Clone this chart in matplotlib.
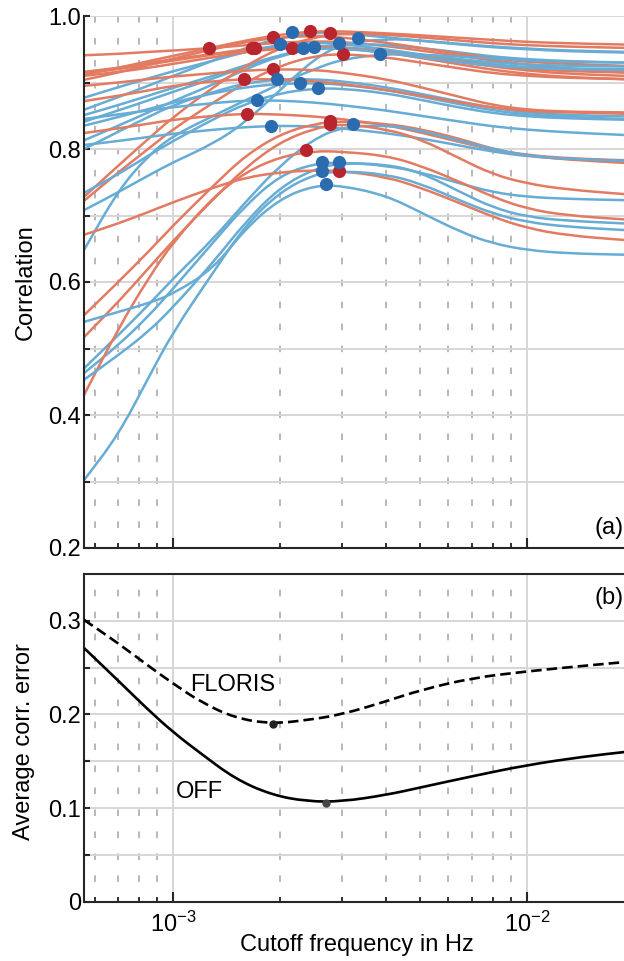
import matplotlib
matplotlib.use("Agg")
import matplotlib.pyplot as plt
from matplotlib.ticker import LogLocator, FixedLocator, NullFormatter, FixedFormatter
from matplotlib.path import Path
from matplotlib.patches import PathPatch
import numpy as np

plt.rcParams['font.family'] = ['Liberation Sans', 'DejaVu Sans']
plt.rcParams['mathtext.fontset'] = 'custom'
plt.rcParams['mathtext.rm'] = 'Liberation Sans'
plt.rcParams['mathtext.it'] = 'Liberation Sans:italic'
plt.rcParams['mathtext.sf'] = 'Liberation Sans'

# ---------------- data (panel a) ----------------
freq_grid = [5.6e-4, 7e-4, 8.5e-4, 1e-3, 1.3e-3, 1.6e-3, 2e-3, 2.5e-3, 3e-3,
             4e-3, 5e-3, 6.5e-3, 8e-3, 1e-2, 1.3e-2, 1.9e-2]

red_curves = [
    [0.941, 0.943, 0.946, 0.948, 0.952, 0.956, 0.960, 0.962, 0.961, 0.955, 0.948, 0.940, 0.933, 0.927, 0.921, 0.915],
    [0.916, 0.922, 0.929, 0.935, 0.943, 0.950, 0.954, 0.955, 0.953, 0.947, 0.940, 0.931, 0.924, 0.918, 0.913, 0.910],
    [0.914, 0.920, 0.927, 0.933, 0.942, 0.949, 0.953, 0.954, 0.952, 0.945, 0.937, 0.927, 0.919, 0.913, 0.908, 0.905],
    [0.904, 0.915, 0.926, 0.936, 0.950, 0.961, 0.968, 0.970, 0.968, 0.960, 0.952, 0.943, 0.936, 0.931, 0.928, 0.925],
    [0.910, 0.916, 0.922, 0.928, 0.938, 0.946, 0.951, 0.953, 0.952, 0.946, 0.939, 0.931, 0.925, 0.920, 0.917, 0.915],
    [0.912, 0.922, 0.932, 0.940, 0.953, 0.963, 0.972, 0.977, 0.977, 0.974, 0.971, 0.967, 0.964, 0.961, 0.959, 0.957],
    [0.728, 0.775, 0.815, 0.848, 0.893, 0.925, 0.952, 0.968, 0.974, 0.972, 0.968, 0.963, 0.959, 0.956, 0.954, 0.952],
    [0.722, 0.765, 0.800, 0.830, 0.870, 0.900, 0.925, 0.940, 0.943, 0.938, 0.930, 0.921, 0.914, 0.910, 0.907, 0.905],
    [0.872, 0.880, 0.888, 0.895, 0.902, 0.905, 0.905, 0.902, 0.898, 0.889, 0.880, 0.870, 0.862, 0.857, 0.855, 0.853],
    [0.895, 0.900, 0.905, 0.909, 0.914, 0.918, 0.920, 0.919, 0.915, 0.905, 0.893, 0.878, 0.866, 0.859, 0.856, 0.855],
    [0.824, 0.831, 0.838, 0.844, 0.850, 0.853, 0.852, 0.849, 0.845, 0.836, 0.825, 0.810, 0.799, 0.791, 0.786, 0.783],
    [0.550, 0.600, 0.645, 0.685, 0.745, 0.790, 0.822, 0.838, 0.842, 0.838, 0.830, 0.815, 0.800, 0.790, 0.784, 0.779],
    [0.517, 0.570, 0.620, 0.662, 0.725, 0.772, 0.810, 0.831, 0.838, 0.830, 0.815, 0.785, 0.762, 0.748, 0.739, 0.732],
    [0.430, 0.530, 0.605, 0.660, 0.728, 0.765, 0.788, 0.797, 0.796, 0.790, 0.775, 0.750, 0.728, 0.710, 0.700, 0.694],
    [0.671, 0.688, 0.705, 0.720, 0.742, 0.757, 0.765, 0.768, 0.767, 0.758, 0.742, 0.718, 0.698, 0.681, 0.670, 0.663],
]
red_best_f = [1.26e-3, 1.67e-3, 1.70e-3, 1.91e-3, 2.17e-3, 2.44e-3, 2.78e-3, 3.02e-3,
              1.59e-3, 1.91e-3, 1.62e-3, 2.78e-3, 2.78e-3, 2.38e-3, 2.94e-3]
red_best_r = [0.952, 0.952, 0.952, 0.968, 0.952, 0.977, 0.974, 0.943,
              0.905, 0.920, 0.853, 0.842, 0.838, 0.798, 0.767]

blue_curves = [
    [0.859, 0.878, 0.895, 0.910, 0.933, 0.952, 0.967, 0.975, 0.974, 0.968, 0.963, 0.957, 0.953, 0.950, 0.947, 0.945],
    [0.708, 0.735, 0.760, 0.780, 0.808, 0.840, 0.888, 0.935, 0.958, 0.966, 0.963, 0.958, 0.954, 0.951, 0.948, 0.946],
    [0.851, 0.866, 0.880, 0.892, 0.910, 0.926, 0.941, 0.952, 0.958, 0.957, 0.952, 0.945, 0.939, 0.935, 0.932, 0.930],
    [0.877, 0.893, 0.906, 0.917, 0.933, 0.946, 0.957, 0.960, 0.958, 0.950, 0.942, 0.933, 0.927, 0.923, 0.921, 0.920],
    [0.841, 0.858, 0.873, 0.886, 0.906, 0.924, 0.941, 0.952, 0.953, 0.948, 0.942, 0.935, 0.930, 0.927, 0.925, 0.924],
    [0.813, 0.835, 0.855, 0.872, 0.897, 0.920, 0.940, 0.951, 0.951, 0.945, 0.938, 0.930, 0.925, 0.922, 0.920, 0.919],
    [0.648, 0.738, 0.790, 0.820, 0.850, 0.873, 0.898, 0.920, 0.935, 0.943, 0.942, 0.939, 0.936, 0.933, 0.931, 0.930],
    [0.800, 0.826, 0.848, 0.866, 0.886, 0.899, 0.905, 0.905, 0.902, 0.893, 0.883, 0.871, 0.862, 0.855, 0.851, 0.849],
    [0.835, 0.848, 0.860, 0.870, 0.884, 0.893, 0.898, 0.899, 0.897, 0.889, 0.879, 0.867, 0.858, 0.852, 0.848, 0.845],
    [0.734, 0.762, 0.790, 0.812, 0.845, 0.868, 0.884, 0.891, 0.891, 0.884, 0.874, 0.862, 0.854, 0.849, 0.846, 0.844],
    [0.845, 0.852, 0.858, 0.863, 0.869, 0.873, 0.873, 0.870, 0.866, 0.858, 0.850, 0.841, 0.834, 0.829, 0.825, 0.821],
    [0.806, 0.812, 0.818, 0.823, 0.829, 0.833, 0.835, 0.834, 0.831, 0.824, 0.816, 0.805, 0.796, 0.789, 0.785, 0.782],
    [0.470, 0.520, 0.565, 0.605, 0.665, 0.720, 0.775, 0.815, 0.833, 0.836, 0.828, 0.812, 0.800, 0.790, 0.785, 0.782],
    [0.463, 0.505, 0.548, 0.590, 0.660, 0.715, 0.760, 0.778, 0.780, 0.775, 0.765, 0.748, 0.735, 0.728, 0.725, 0.723],
    [0.453, 0.490, 0.525, 0.562, 0.630, 0.690, 0.742, 0.770, 0.779, 0.777, 0.765, 0.735, 0.712, 0.698, 0.692, 0.688],
    [0.302, 0.370, 0.455, 0.525, 0.615, 0.685, 0.735, 0.762, 0.767, 0.762, 0.748, 0.722, 0.703, 0.690, 0.683, 0.678],
    [0.540, 0.555, 0.568, 0.582, 0.620, 0.680, 0.725, 0.745, 0.745, 0.730, 0.705, 0.675, 0.658, 0.648, 0.643, 0.641],
]
blue_best_f = [2.17e-3, 3.33e-3, 2.94e-3, 2.0e-3, 2.5e-3, 2.33e-3, 3.84e-3, 1.97e-3,
               2.28e-3, 2.57e-3, 1.73e-3, 1.89e-3, 3.22e-3, 2.63e-3, 2.94e-3, 2.63e-3, 2.70e-3]
blue_best_r = [0.976, 0.967, 0.959, 0.958, 0.953, 0.952, 0.943, 0.905,
               0.899, 0.892, 0.874, 0.835, 0.838, 0.780, 0.780, 0.767, 0.747]

# ---------------- data (panel b) ----------------
err_freq = [5.6e-4, 7e-4, 8.5e-4, 1e-3, 1.2e-3, 1.5e-3, 1.9e-3, 2.4e-3, 3e-3,
            4e-3, 5e-3, 7e-3, 1e-2, 1.45e-2, 1.9e-2]
err_floris = [0.301, 0.276, 0.252, 0.233, 0.213, 0.196, 0.190, 0.194, 0.200,
              0.214, 0.226, 0.239, 0.246, 0.252, 0.256]
err_off = [0.271, 0.236, 0.205, 0.181, 0.158, 0.131, 0.114, 0.107, 0.107,
           0.114, 0.122, 0.134, 0.146, 0.155, 0.160]
floris_min = (1.92e-3, 0.190)
off_min = (2.70e-3, 0.1058)

# ---------------- styling ----------------
RED_LINE = '#e27b61'
BLUE_LINE = '#67acd4'
RED_DOT = '#b9252f'
BLUE_DOT = '#2b6cb0'
SPINE = '#262626'
GRID = '#d6d6d6'
MINOR = '#b8b8b8'
FS = 17

W, H = 624, 961
fig = plt.figure(figsize=(W / 100, H / 100), dpi=100)
left = 84 / W
ax1 = fig.add_axes([left, 1 - 548 / H, 1 - left, (548 - 16) / H])
ax2 = fig.add_axes([left, 1 - 901.7 / H, 1 - left, (901.7 - 574) / H])

xlim = (5.6e-4, 1.88e-2)


def smooth_line(ax, xs, ys, **kw):
    """Draw a smooth quadratic-Bezier path through the data (log-x aware)."""
    xs = np.asarray(xs, float)
    ys = np.asarray(ys, float)
    lx = np.log10(xs)
    verts = [(xs[0], ys[0])]
    codes = [Path.MOVETO]
    mx = 10 ** ((lx[0] + lx[1]) / 2)
    verts.append((mx, (ys[0] + ys[1]) / 2))
    codes.append(Path.LINETO)
    for i in range(1, len(xs) - 1):
        mx = 10 ** ((lx[i] + lx[i + 1]) / 2)
        verts += [(xs[i], ys[i]), (mx, (ys[i] + ys[i + 1]) / 2)]
        codes += [Path.CURVE3, Path.CURVE3]
    verts.append((xs[-1], ys[-1]))
    codes.append(Path.LINETO)
    patch = PathPatch(Path(verts, codes), fill=False, transform=ax.transData, **kw)
    ax.add_patch(patch)
    return patch


def style_axes(ax, ymaj, ymin, ylabels, show_top):
    ax.set_xscale('log')
    ax.set_xlim(*xlim)
    ax.xaxis.set_major_locator(FixedLocator([1e-3, 1e-2]))
    ax.xaxis.set_minor_locator(LogLocator(base=10, subs=np.arange(2, 10), numticks=20))
    ax.xaxis.set_minor_formatter(NullFormatter())
    ax.yaxis.set_major_locator(FixedLocator(ymaj))
    ax.yaxis.set_major_formatter(FixedFormatter(ylabels))
    ax.yaxis.set_minor_locator(FixedLocator(ymin))
    ax.grid(True, which='major', axis='x', color=GRID, lw=1.4, zorder=0)
    ax.grid(True, which='minor', axis='x', color=MINOR, lw=1.4,
            linestyle=(1, (3.4, 7.9)), zorder=0)
    ax.grid(True, which='both', axis='y', color=GRID, lw=1.4, zorder=0)
    ax.set_axisbelow(True)
    ax.spines['right'].set_visible(False)
    ax.spines['top'].set_visible(show_top)
    for s in ['left', 'bottom', 'top']:
        ax.spines[s].set_color(SPINE)
        ax.spines[s].set_linewidth(1.5)
    ax.tick_params(axis='x', which='major', direction='in', length=7, width=1.5,
                   color=SPINE, labelsize=FS, pad=7, top=False)
    ax.tick_params(axis='x', which='minor', direction='in', length=3.5, width=1.3,
                   color=SPINE, top=False)
    ax.tick_params(axis='y', which='both', direction='in', length=4.5, width=1.5,
                   color=SPINE, labelsize=FS, pad=2, right=False)


style_axes(ax1, [0.2, 0.4, 0.6, 0.8, 1.0], [0.3, 0.5, 0.7, 0.9],
           ['0.2', '0.4', '0.6', '0.8', '1.0'], False)
ax1.set_ylim(0.2, 1.0)
ax1.tick_params(axis='x', which='both', labelbottom=False)

style_axes(ax2, [0, 0.1, 0.2, 0.3], [0.05, 0.15, 0.25],
           ['0', '0.1', '0.2', '0.3'], True)
ax2.set_ylim(0, 0.35)

# panel (a) curves
n = max(len(red_curves), len(blue_curves))
for i in range(n):
    if i < len(blue_curves):
        smooth_line(ax1, freq_grid, blue_curves[i], edgecolor=BLUE_LINE, lw=1.8,
                    zorder=2, capstyle='round')
    if i < len(red_curves):
        smooth_line(ax1, freq_grid, red_curves[i], edgecolor=RED_LINE, lw=1.8,
                    zorder=2, capstyle='round')
ax1.plot(red_best_f, red_best_r, 'o', color=RED_DOT, ms=9.5, mec='none', zorder=4)
ax1.plot(blue_best_f, blue_best_r, 'o', color=BLUE_DOT, ms=9.5, mec='none', zorder=4)

ax1.set_ylabel('Correlation', fontsize=FS)
ax1.yaxis.set_label_coords(-0.088, 0.5)
ax1.text(0.999, 0.038, '(a)', transform=ax1.transAxes, ha='right', va='center',
         fontsize=FS)

# panel (b)
smooth_line(ax2, err_freq, err_floris, edgecolor='black', lw=1.9,
            linestyle=(0, (4.0, 1.9)), zorder=3)
smooth_line(ax2, err_freq, err_off, edgecolor='black', lw=1.9, zorder=3)
ax2.plot([floris_min[0]], [floris_min[1]], 'o', color='#222222', ms=5, zorder=4)
ax2.plot([off_min[0]], [off_min[1]], 'o', color='#444444', ms=5, zorder=4)
ax2.text(1.472e-3, 0.2316, 'FLORIS', ha='center', va='center', fontsize=FS)
ax2.text(1.188e-3, 0.1176, 'OFF', ha='center', va='center', fontsize=FS)
ax2.text(0.999, 0.927, '(b)', transform=ax2.transAxes, ha='right', va='center',
         fontsize=FS)

ax2.set_ylabel('Average corr. error', fontsize=FS)
ax2.yaxis.set_label_coords(-0.090, 0.49)
ax2.set_xlabel('Cutoff frequency in Hz', fontsize=FS)
ax2.xaxis.set_label_coords(0.506, -0.100)

fig.savefig('out.png', dpi=100)
